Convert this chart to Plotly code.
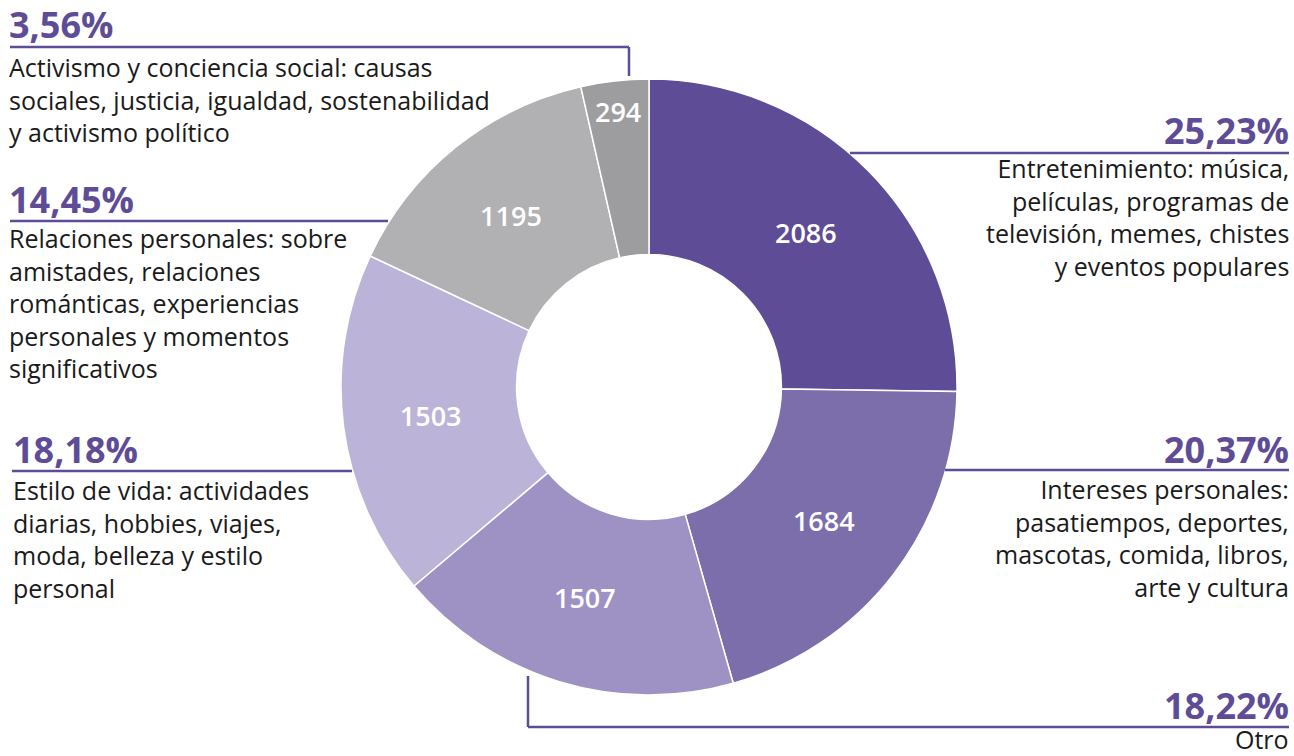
import plotly.graph_objects as go

W, H = 1294, 756

categories = ["Entretenimiento", "Intereses personales", "Otro",
              "Estilo de vida", "Relaciones personales", "Activismo y conciencia social"]
values = [2086, 1684, 1507, 1503, 1195, 294]
colors = ["#5e4c96", "#7c6dab", "#9e91c4", "#bcb3d8", "#b1b1b3", "#9d9d9f"]
descriptions = [
    ["Entretenimiento: música,", "películas, programas de",
     "televisión, memes, chistes", "y eventos populares"],
    ["Intereses personales:", "pasatiempos, deportes,",
     "mascotas, comida, libros,", "arte y cultura"],
    ["Otro"],
    ["Estilo de vida: actividades", "diarias, hobbies, viajes,",
     "moda, belleza y estilo", "personal"],
    ["Relaciones personales: sobre", "amistades, relaciones",
     "románticas, experiencias", "personales y momentos", "significativos"],
    ["Activismo y conciencia social: causas",
     "sociales, justicia, igualdad, sostenabilidad", "y activismo político"],
]

total = sum(values)
pct_labels = [f"{v / total * 100:.2f}".replace(".", ",") + "%" for v in values]

PURPLE = "#5e4c96"
FONT = "Open Sans"
DESC_SIZE = 25
LINE_H = 1.3 * DESC_SIZE

def px(x):
    return x / W

def py(y):
    return 1 - y / H

cx, cy, R = 649, 387, 308

fig = go.Figure(go.Pie(
    labels=categories,
    values=values,
    sort=False,
    direction="clockwise",
    rotation=0,
    hole=0.43,
    marker=dict(colors=colors, line=dict(color="white", width=1.5)),
    textinfo="value",
    textposition="inside",
    insidetextorientation="horizontal",
    textfont=dict(family=FONT, size=27, color="white", weight=600),
    domain=dict(x=[px(cx - R), px(cx + R)], y=[py(cy + R), py(cy - R)]),
    showlegend=False,
    hoverinfo="label+value+percent",
))

# (x, pct center y, side, first-line center y)
placements = [
    (1291, 131, "right", 168),
    (1291, 449, "right", 489),
    (1291, 705, "right", 739),
    (11, 449, "left", 490),
    (7, 199, "left", 238),
    (7, 25, "left", 67),
]

annotations = []
for (x, yp, side, yd), pct, desc in zip(placements, pct_labels, descriptions):
    annotations.append(dict(
        x=px(x), y=py(yp), xref="paper", yref="paper",
        xanchor=side, yanchor="middle", align=side,
        text=f"<b>{pct}</b>", showarrow=False,
        font=dict(family=FONT, size=36, color=PURPLE),
    ))
    block_center = yd + (len(desc) - 1) * LINE_H / 2
    annotations.append(dict(
        x=px(x), y=py(block_center), xref="paper", yref="paper",
        xanchor=side, yanchor="middle", align=side,
        text="<br>".join(desc), showarrow=False,
        font=dict(family=FONT, size=DESC_SIZE, color="#1a1a1a"),
    ))

LINE = dict(color=PURPLE, width=2.5)
segments = [
    ((10, 47), (629, 47)), ((629, 47), (629, 76)),
    ((850, 153), (1289, 153)),
    ((10, 221), (388, 221)),
    ((12, 471), (352, 471)),
    ((945, 470), (1289, 470)),
    ((528, 676), (528, 727)), ((528, 727), (1289, 727)),
]
shapes = [dict(type="line", xref="paper", yref="paper",
               x0=px(a[0]), y0=py(a[1]), x1=px(b[0]), y1=py(b[1]), line=LINE)
          for a, b in segments]

fig.update_layout(
    width=W, height=H,
    margin=dict(l=0, r=0, t=0, b=0),
    paper_bgcolor="white", plot_bgcolor="white",
    annotations=annotations, shapes=shapes,
    font=dict(family=FONT),
)

fig.write_html("out.html", config={"displayModeBar": False},
               post_script="document.body.style.margin='0';document.body.style.overflow='hidden';")
